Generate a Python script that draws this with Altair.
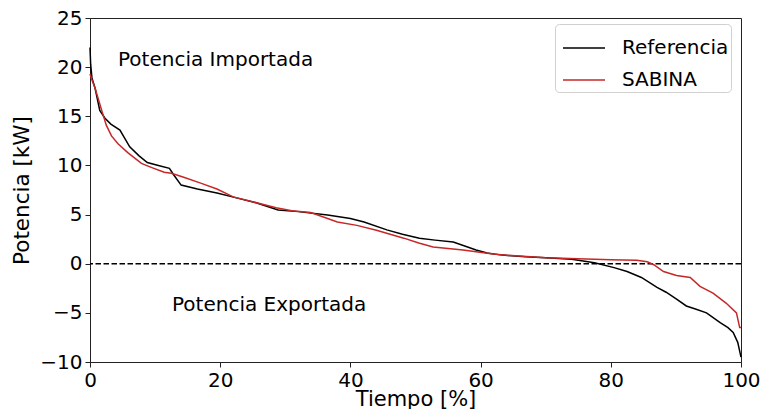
import altair as alt
import pandas as pd

# Referencia duration curve
ref_x = [0, 0.1, 0.3, 0.8, 1.5, 2.3, 3.2, 4.6, 6.1, 7.5, 8.8, 10.5, 12.2, 12.9, 14.0,
         16.5, 19.5, 22.5, 25.5, 28.9, 32, 36.5, 40, 42.1, 45.6, 48, 50.6, 53, 55.8,
         58, 59.3, 61, 63, 66.9, 70, 74, 77.5, 80.5, 82.5, 84.7, 87.1, 88.5, 90.1,
         91.6, 93, 94.7, 96.8, 98.0, 98.8, 99.5, 100]
ref_y = [22.0, 20.3, 18.9, 17.8, 15.6, 14.8, 14.2, 13.6, 11.9, 11.0, 10.3, 10.0, 9.7,
         9.0, 8.0, 7.6, 7.2, 6.7, 6.2, 5.46, 5.3, 4.96, 4.6, 4.25, 3.44, 3.0, 2.6, 2.4,
         2.2, 1.7, 1.4, 1.1, 0.9, 0.7, 0.6, 0.45, 0.1, -0.4, -0.8, -1.4, -2.4, -2.9,
         -3.6, -4.3, -4.6, -5.0, -6.0, -6.5, -7.0, -8.0, -9.5]

# SABINA duration curve
sab_x = [0, 0.3, 0.76, 1.8, 2.5, 3.3, 4.3, 5.8, 7.9, 9.4, 11.4, 12.5, 14.4, 17, 19.5,
         22, 25, 28.6, 31, 33.9, 38, 41, 44, 48.2, 50.5, 52.7, 57.3, 61.9, 65.3, 70,
         75, 80, 84, 85.6, 86.6, 88.1, 90.1, 92.2, 93.7, 95.7, 97.7, 99.3, 99.8, 100]
sab_y = [19.3, 18.7, 17.9, 15.6, 14.1, 13.0, 12.2, 11.3, 10.2, 9.8, 9.3, 9.2, 8.8, 8.2,
         7.6, 6.8, 6.3, 5.7, 5.4, 5.2, 4.25, 3.9, 3.4, 2.6, 2.1, 1.7, 1.4, 1.0, 0.8,
         0.6, 0.5, 0.4, 0.35, 0.2, -0.1, -0.8, -1.2, -1.4, -2.3, -3.0, -4.0, -5.0,
         -6.5, -6.5]

series_names = ["Referencia", "SABINA"]
series_colors = ["#000000", "#c62828"]

ann_text = ["Potencia Importada", "Potencia Exportada"]
ann_x = [4.3, 12.6]
ann_y = [20.7, -4.25]

x_ticks = [0, 20, 40, 60, 80, 100]
y_ticks = [-10, -5, 0, 5, 10, 15, 20, 25]

FONT = "DejaVu Sans"

df = pd.concat([
    pd.DataFrame({"t": ref_x, "p": ref_y, "serie": "Referencia", "o": range(len(ref_x))}),
    pd.DataFrame({"t": sab_x, "p": sab_y, "serie": "SABINA", "o": range(len(sab_x))}),
])
df_ann = pd.DataFrame({"t": ann_x, "p": ann_y, "txt": ann_text})

xscale = alt.Scale(domain=[0, 100], nice=False, zero=False)
yscale = alt.Scale(domain=[-10, 25], nice=False, zero=False)

lines = alt.Chart(df).mark_line(strokeWidth=1.5).encode(
    x=alt.X("t:Q", scale=xscale, title="Tiempo [%]",
            axis=alt.Axis(values=x_ticks, format="d", labelFlush=False)),
    y=alt.Y("p:Q", scale=yscale, title="Potencia [kW]",
            axis=alt.Axis(values=y_ticks, format="d", labelFlush=False)),
    color=alt.Color("serie:N",
                    scale=alt.Scale(domain=series_names, range=series_colors),
                    legend=alt.Legend(title=None, orient="none", legendX=465, legendY=6,
                                      symbolType="stroke", symbolSize=1764,
                                      symbolStrokeWidth=1.5, symbolOffset=5,
                                      labelFontSize=20,
                                      labelFont=FONT, labelColor="black",
                                      labelOffset=16, rowPadding=0, padding=2,
                                      fillColor="white", strokeColor="#d0d0d0",
                                      cornerRadius=4)),
    order="o:Q",
)

zero = alt.Chart(pd.DataFrame({"p": [0]})).mark_rule(
    color="black", strokeWidth=1.5, strokeDash=[5.5, 2.5]
).encode(y=alt.Y("p:Q", scale=yscale))

texts = alt.Chart(df_ann).mark_text(
    align="left", baseline="middle", fontSize=20, font=FONT, color="black"
).encode(
    x=alt.X("t:Q", scale=xscale),
    y=alt.Y("p:Q", scale=yscale),
    text="txt:N",
)

chart = alt.layer(zero, lines, texts).properties(
    width=651, height=344,
    autosize=alt.AutoSizeParams(type="none"),
    padding={"left": 82, "top": 10, "right": 19, "bottom": 47},
).configure_view(
    stroke="#222222", strokeWidth=1
).configure_axis(
    grid=False, domainColor="#222222", tickColor="#222222", tickSize=5,
    labelFontSize=20, labelFont=FONT, labelColor="black", labelPadding=3,
    titleFontSize=21, titleFont=FONT, titleColor="black", titleFontWeight="normal",
).configure_axisY(titlePadding=6, titleFontSize=21.5).configure_axisX(titlePadding=-2)

chart.save("out.html", embed_options={"renderer": "svg", "actions": False})
